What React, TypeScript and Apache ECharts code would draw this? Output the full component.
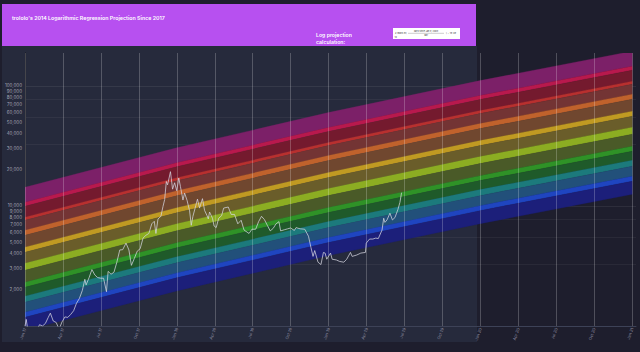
import React, { useEffect, useRef } from "react";
import * as echarts from "echarts";

const TITLE = "trololo's 2014 Logarithmic Regression Projection Since 2017";
const ORIGIN = Date.UTC(2017, 0, 1);
const X_MAX_DAYS = 1470;
const QUARTER = 1461 / 16;
const MONTHS = ["Jan", "Feb", "Mar", "Apr", "May", "Jun", "Jul", "Aug", "Sep", "Oct", "Nov", "Dec"];

// dates at which the band boundaries were read
const bandDates = ["2017-01-01", "2018-01-01", "2019-01-01", "2020-01-01", "2021-01-01"];

// band boundaries, top to bottom (USD)
const bandBounds: number[][] = [
  [14310, 30510, 59980, 110700, 194500],
  [10740, 22880, 44980, 83060, 145900],
  [9940, 21200, 41650, 76910, 135200],
  [8050, 17160, 33730, 62270, 109400],
  [7600, 16200, 31840, 58790, 103300],
  [6270, 13370, 26290, 48530, 85290],
  [5700, 12150, 23880, 44090, 77460],
  [4530, 9650, 18970, 35020, 61530],
  [4110, 8770, 17240, 31820, 55900],
  [3330, 7100, 13950, 25760, 45270],
  [2910, 6210, 12200, 22530, 39580],
  [2310, 4930, 9690, 17890, 31440],
  [2100, 4480, 8810, 16260, 28560],
  [1770, 3770, 7410, 13680, 24030],
  [1580, 3360, 6600, 12190, 21420],
  [1300, 2770, 5450, 10060, 17680],
  [1180, 2520, 4950, 9140, 16060],
  [921, 1960, 3860, 7120, 12520],
];

const regionColors = [
  "#7c2068", "#b8194d", "#741a2e", "#b8302f", "#733434", "#c0622c", "#70472f",
  "#c09a22", "#6a5d2a", "#8cad22", "#4a5a28", "#2f9227", "#1f5a2a", "#1c7a7c",
  "#22507a", "#1f45c0", "#1c1f7a",
];

const priceDates = [
  "2017-01-01", "2017-01-04", "2017-01-08", "2017-01-11", "2017-01-15", "2017-01-22", "2017-01-29",
  "2017-02-05", "2017-02-12", "2017-02-19", "2017-02-26", "2017-03-03", "2017-03-10", "2017-03-17",
  "2017-03-24", "2017-03-31", "2017-04-07", "2017-04-14", "2017-04-21", "2017-04-28", "2017-05-05",
  "2017-05-12", "2017-05-19", "2017-05-25", "2017-05-28", "2017-06-04", "2017-06-11", "2017-06-18",
  "2017-06-25", "2017-07-02", "2017-07-09", "2017-07-16", "2017-07-20", "2017-07-27", "2017-08-03",
  "2017-08-10", "2017-08-17", "2017-08-24", "2017-09-01", "2017-09-08", "2017-09-14", "2017-09-21",
  "2017-09-28", "2017-10-05", "2017-10-12", "2017-10-19", "2017-10-26", "2017-11-02", "2017-11-08",
  "2017-11-12", "2017-11-17", "2017-11-24", "2017-11-29", "2017-12-03", "2017-12-07", "2017-12-10",
  "2017-12-17", "2017-12-22", "2017-12-27", "2018-01-01", "2018-01-06", "2018-01-10", "2018-01-16",
  "2018-01-20", "2018-01-26", "2018-02-01", "2018-02-05", "2018-02-09", "2018-02-16", "2018-02-20",
  "2018-02-25", "2018-03-04", "2018-03-09", "2018-03-15", "2018-03-18", "2018-03-21", "2018-03-28",
  "2018-04-01", "2018-04-06", "2018-04-12", "2018-04-19", "2018-04-24", "2018-05-05", "2018-05-12",
  "2018-05-20", "2018-05-28", "2018-06-05", "2018-06-12", "2018-06-24", "2018-07-01", "2018-07-10",
  "2018-07-17", "2018-07-24", "2018-07-31", "2018-08-07", "2018-08-14", "2018-08-21", "2018-08-28",
  "2018-09-04", "2018-09-08", "2018-09-18", "2018-09-25", "2018-10-02", "2018-10-11", "2018-10-15",
  "2018-10-25", "2018-11-05", "2018-11-14", "2018-11-20", "2018-11-25", "2018-11-29", "2018-12-07",
  "2018-12-14", "2018-12-20", "2018-12-24", "2018-12-28", "2019-01-06", "2019-01-10", "2019-01-20",
  "2019-01-28", "2019-02-07", "2019-02-14", "2019-02-23", "2019-02-27", "2019-03-10", "2019-03-20",
  "2019-03-31", "2019-04-02", "2019-04-10", "2019-04-18", "2019-04-25", "2019-05-01", "2019-05-10",
  "2019-05-14", "2019-05-17", "2019-05-22", "2019-05-29", "2019-06-04", "2019-06-10", "2019-06-17",
  "2019-06-22", "2019-06-26",
];

const priceValues = [
  998, 1135, 908, 780, 820, 921, 918,
  1025, 1000, 1050, 1180, 1280, 1100, 1070,
  940, 1080, 1190, 1180, 1250, 1340, 1550,
  1700, 1980, 2450, 2200, 2520, 2950, 2660,
  2530, 2500, 2500, 1930, 2850, 2700, 2800,
  3400, 4300, 4320, 4900, 4300, 3200, 3650,
  4200, 4400, 5400, 5700, 5900, 7100, 7450,
  5900, 7800, 8200, 9900, 11300, 16000, 15000,
  19300, 13800, 15600, 13400, 17100, 14500, 11200,
  12800, 11100, 9100, 6900, 8200, 10100, 11400,
  9600, 11500, 9200, 8300, 7800, 8900, 7900,
  6800, 6600, 7900, 8300, 9600, 9800, 8500,
  8500, 7100, 7600, 6300, 5900, 6400, 6400,
  7400, 8200, 7700, 6900, 6200, 6500, 7100,
  7400, 6200, 6350, 6450, 6550, 6250, 6600,
  6450, 6400, 5600, 4500, 3800, 4250, 3400,
  3250, 4100, 4050, 3600, 4050, 3600, 3550,
  3450, 3400, 3600, 4100, 3800, 3900, 4050,
  4100, 4900, 5300, 5300, 5400, 5350, 6300,
  7900, 7300, 7650, 8700, 7650, 8000, 9300,
  10700, 12900,
];

const yTickValues = [
  2000, 3000, 4000, 5000, 6000, 7000, 8000, 9000, 10000,
  20000, 30000, 40000, 50000, 60000, 70000, 80000, 90000, 100000,
];

const toDay = (s: string) => (Date.parse(s + "T00:00:00Z") - ORIGIN) / 86400000;

export default function App() {
  const ref = useRef<HTMLDivElement>(null);

  useEffect(() => {
    if (!ref.current) return;
    const chart = echarts.init(ref.current, undefined, { renderer: "svg" });
    const bandDays = bandDates.map(toDay);
    const priceData = priceDates.map((d, i) => [toDay(d), priceValues[i]]);
    const font = "Inter";

    const option: any = {
      animation: false,
      backgroundColor: "transparent",
      grid: { left: 25, right: 4, top: 53, bottom: 26, containLabel: false },
      xAxis: {
        type: "value",
        min: 0,
        max: X_MAX_DAYS,
        interval: QUARTER,
        z: 3,
        axisLine: { show: true, lineStyle: { color: "#3d4257", width: 1 } },
        axisTick: { show: false },
        splitLine: { show: true, showMaxLine: false, lineStyle: { color: "rgba(255,255,255,0.22)", width: 1 } },
        axisLabel: {
          rotate: 70,
          fontSize: 4,
          color: "#8e8ea2",
          fontFamily: font,
          margin: 2,
          formatter: (v: number) => {
            const r = v % QUARTER;
            if (r > 1 && QUARTER - r > 1) return "";
            const d = new Date(ORIGIN + (v + 15) * 86400000);
            return MONTHS[d.getUTCMonth()] + " " + String(d.getUTCFullYear()).slice(2);
          },
        },
      },
      yAxis: {
        type: "log",
        logBase: 10,
        min: 1000,
        max: 188000,
        axisLine: { show: true, lineStyle: { color: "#111119", width: 1 } },
        axisTick: { show: false },
        axisLabel: { show: false },
        splitLine: { show: true, showMaxLine: false, lineStyle: { color: "rgba(255,255,255,0.07)" } },
        minorTick: { show: false, splitNumber: 4 },
        minorSplitLine: { show: true, lineStyle: { color: "rgba(255,255,255,0.05)" } },
      },
      graphic: {
        elements: [
          { type: "rect", z: -10, shape: { x: 2, y: 46, width: 475, height: 296 }, style: { fill: "#262a3c" } },
          { type: "rect", z: -10, shape: { x: 2, y: 4, width: 474, height: 42 }, style: { fill: "#b750f0" } },
          {
            type: "text", z: 20, x: 12, y: 17.5,
            style: { text: TITLE, fill: "#ffffff", fontSize: 5.3, fontWeight: 600, fontFamily: font, verticalAlign: "middle" },
          },
          {
            type: "text", z: 20, x: 316, y: 34.5,
            style: { text: "Log projection", fill: "#ffffff", fontSize: 5.2, fontWeight: 600, fontFamily: font, verticalAlign: "middle" },
          },
          {
            type: "text", z: 20, x: 316, y: 42,
            style: { text: "calculation:", fill: "#ffffff", fontSize: 5.2, fontWeight: 600, fontFamily: font, verticalAlign: "middle" },
          },
          { type: "rect", z: 20, shape: { x: 393, y: 28, width: 67, height: 11 }, style: { fill: "#ffffff" } },
          {
            type: "text", z: 21, x: 395, y: 33.5,
            style: { text: "2.9065 ln(", fill: "#333333", fontSize: 2.4, fontFamily: font, verticalAlign: "middle" },
          },
          {
            type: "text", z: 21, x: 394.5, y: 37.2,
            style: { text: "10", fill: "#333333", fontSize: 2.2, fontFamily: font, verticalAlign: "middle" },
          },
          {
            type: "text", z: 21, x: 426, y: 31,
            style: { text: "days since Jan 9, 2009", fill: "#333333", fontSize: 2.2, fontFamily: font, align: "center", verticalAlign: "middle" },
          },
          { type: "line", z: 21, shape: { x1: 408, y1: 33.3, x2: 444, y2: 33.3 }, style: { stroke: "#555555", lineWidth: 0.3 } },
          {
            type: "text", z: 21, x: 426, y: 35.6,
            style: { text: "day", fill: "#333333", fontSize: 2.2, fontFamily: font, align: "center", verticalAlign: "middle" },
          },
          {
            type: "text", z: 21, x: 446, y: 33.5,
            style: { text: ") − 19.49", fill: "#333333", fontSize: 2.4, fontFamily: font, verticalAlign: "middle" },
          },
        ],
      },
      series: [
        {
          type: "custom",
          name: "bands",
          clip: true,
          z: 2,
          data: regionColors.map((_, i) => [0, 1000, i]),
          encode: { x: 0, y: 1 },
          renderItem: (params: any, api: any) => {
            const i = params.dataIndex;
            const up = bandBounds[i];
            const lo = bandBounds[i + 1];
            const pts: number[][] = [];
            for (let k = 0; k < bandDays.length; k++) pts.push(api.coord([bandDays[k], up[k]]));
            for (let k = bandDays.length - 1; k >= 0; k--) pts.push(api.coord([bandDays[k], lo[k]]));
            return {
              type: "polygon",
              shape: { points: pts },
              style: { fill: regionColors[i], stroke: regionColors[i], lineWidth: 0.3 },
            };
          },
        },
        {
          type: "line",
          name: "BTC",
          data: priceData,
          showSymbol: false,
          z: 6,
          lineStyle: { color: "#d6d6e0", width: 0.75 },
        },
        {
          type: "scatter",
          name: "yticks",
          data: yTickValues.map((v) => [0, v]),
          symbolSize: 1,
          z: 7,
          itemStyle: { color: "rgba(0,0,0,0)" },
          label: {
            show: true,
            position: "left",
            distance: 2.5,
            fontSize: 4.5,
            fontFamily: font,
            color: "#c6c6d2",
            formatter: (p: any) => Number(p.value[1]).toLocaleString("en-US"),
          },
        },
      ],
    };

    chart.setOption(option);
    return () => chart.dispose();
  }, []);

  return (
    <div
      style={{ position: "fixed", left: 0, top: 0, width: 640, height: 352, background: "#1e1e2d" }}
    >
      <div ref={ref} style={{ width: 640, height: 352 }} />
    </div>
  );
}
